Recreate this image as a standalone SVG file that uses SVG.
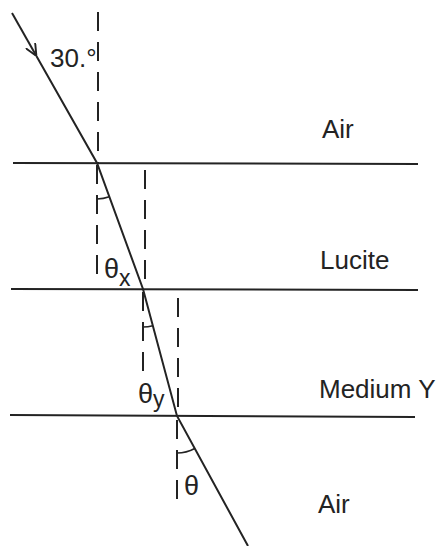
<svg xmlns="http://www.w3.org/2000/svg" width="438" height="546" viewBox="0 0 438 546">
<defs>
<style>
.ln{stroke:#232323;stroke-width:2;fill:none;stroke-linecap:butt}
.ds{stroke:#232323;stroke-width:2;fill:none;stroke-dasharray:19 11}
.arc{stroke:#232323;stroke-width:1.6;fill:none}
.lb{font-family:"Liberation Sans",Arial,sans-serif;font-size:26px;fill:#232323}
.th{font-family:"Liberation Sans",Arial,sans-serif;font-size:27px;fill:#232323}
.sb{font-family:"Liberation Sans",Arial,sans-serif;font-size:23px;fill:#232323}
</style>
<marker id="arr" viewBox="0 0 10 10" refX="10" refY="5" markerWidth="12" markerHeight="12" markerUnits="userSpaceOnUse" orient="auto">
<path d="M0,0.5 L10,5 L0,9.5" stroke="#232323" stroke-width="1.6" fill="none"/>
</marker>
</defs>
<rect width="438" height="546" fill="#ffffff"/>
<g id="interfaces">
<line class="ln" x1="13" y1="163" x2="418" y2="164"/>
<line class="ln" x1="11" y1="289" x2="418" y2="290"/>
<line class="ln" x1="10" y1="415" x2="415" y2="417"/>
</g>
<g id="normals">
<line class="ds" x1="98" y1="12" x2="98" y2="163"/>
<line class="ds" x1="97" y1="165" x2="97" y2="278"/>
<line class="ds" x1="145" y1="170" x2="145" y2="289"/>
<line class="ds" x1="143" y1="292" x2="143" y2="378"/>
<line class="ds" x1="178" y1="298" x2="178" y2="416"/>
<line class="ds" x1="177" y1="420" x2="177" y2="510"/>
</g>
<g id="connectors">
<path class="ln" d="M12,13 L36.4,56" marker-end="url(#arr)"/>
<path class="ln" d="M36.4,56 L97,163 L143,289 L177,416 L248,546"/>
</g>
<g id="angle-arcs">
<path class="arc" d="M97,199 A36,36 0 0 0 109.3,196.8"/>
<path class="arc" d="M143,327 A38,38 0 0 0 152.8,325.7"/>
<path class="arc" d="M177,453 A37,37 0 0 0 194.7,448.5"/>
</g>
<g id="labels">
<text class="lb" x="50" y="67">30.°</text>
<text class="lb" x="322" y="138">Air</text>
<text class="lb" x="320" y="269">Lucite</text>
<text class="lb" x="319" y="398">Medium Y</text>
<text class="lb" x="318" y="513">Air</text>
<text class="th" x="104" y="278">θ<tspan class="sb" dy="8">x</tspan></text>
<text class="th" x="138" y="403">θ<tspan class="sb" dy="4">y</tspan></text>
<text class="th" x="184" y="495">θ</text>
</g>
</svg>
